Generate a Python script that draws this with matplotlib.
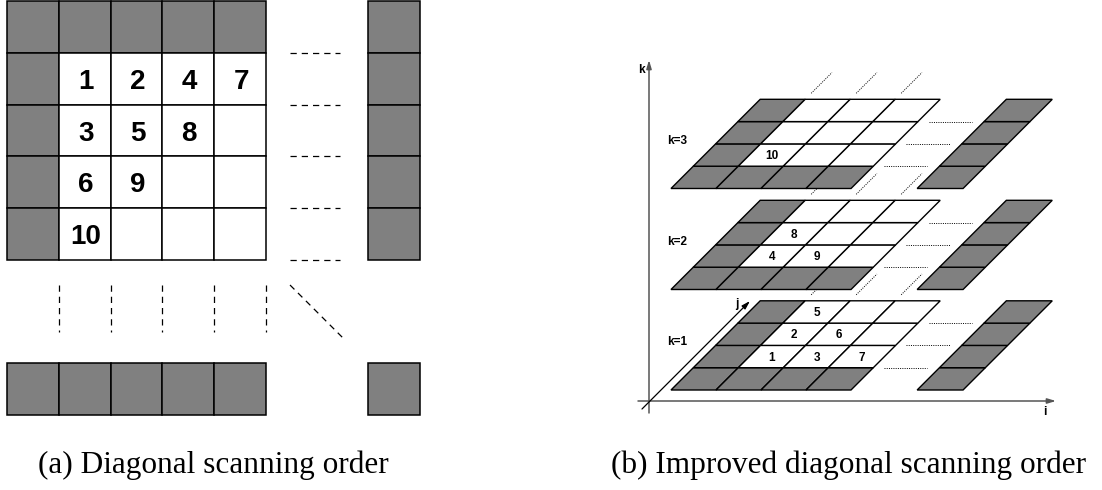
import matplotlib
matplotlib.use("Agg")
import matplotlib.pyplot as plt
from matplotlib.patches import Polygon, Rectangle

# (a) scan order in the 4x4 interior, row by row (None = empty cell)
left_order = [
    [1, 2, 4, 7],
    [3, 5, 8, None],
    [6, 9, None, None],
    [10, None, None, None],
]

# (b) labels per layer: (column, row-from-front, text)
layer_names = ["k=1", "k=2", "k=3"]
layer1_labels = [(1, 1, "1"), (2, 1, "3"), (3, 1, "7"), (1, 2, "2"), (2, 2, "6"), (1, 3, "5")]
layer2_labels = [(1, 1, "4"), (2, 1, "9"), (1, 2, "8")]
layer3_labels = [(1, 1, "10")]
layer_labels = [layer1_labels, layer2_labels, layer3_labels]

captions = ["(a) Diagonal scanning order", "(b) Improved diagonal scanning order"]

GRAY = "#808080"
SANS = "Liberation Sans"
SERIF = "Liberation Serif"

fig = plt.figure(figsize=(11.02, 4.9), dpi=100)
ax = fig.add_axes([0, 0, 1, 1])
ax.set_xlim(0, 1102)
ax.set_ylim(490, 0)
ax.axis("off")

# ---------------- (a) ----------------
x0, y0, s = 7, 1, 51.8
n = 5
for r in range(n):
    for c in range(n):
        gray = r == 0 or c == 0
        ax.add_patch(Rectangle((x0 + c * s, y0 + r * s), s, s,
                               facecolor=GRAY if gray else "white",
                               edgecolor="black", lw=1.1))
# right gray column and bottom gray row
xr = 368
for r in range(n):
    ax.add_patch(Rectangle((xr, y0 + r * s), s, s, facecolor=GRAY, edgecolor="black", lw=1.1))
yb = 363
for c in range(n):
    ax.add_patch(Rectangle((x0 + c * s, yb), s, s, facecolor=GRAY, edgecolor="black", lw=1.1))
ax.add_patch(Rectangle((xr, yb), s, s, facecolor=GRAY, edgecolor="black", lw=1.1))

for r, row in enumerate(left_order):
    for c, val in enumerate(row):
        if val is None:
            continue
        ax.text(x0 + (c + 1.5) * s + 1, y0 + (r + 1.5) * s + 3, str(val), ha="center", va="center",
                fontsize=20, fontweight="bold", family=SANS)

dash = (0, (5, 4))
for r in range(1, n + 1):
    ax.plot([290, 340], [y0 + r * s] * 2, color="black", lw=0.9, linestyle=dash)
for c in range(1, n + 1):
    ax.plot([x0 + c * s] * 2, [285, 332], color="black", lw=0.9, linestyle=dash)
ax.plot([290, 343], [285, 338], color="black", lw=0.9, linestyle=dash)

# ---------------- (b) ----------------
bx0, cw, rh = 671, 45.0, 22.3
ybots = [390, 289.5, 188.5]


def P(layer, u, v):
    return (bx0 + cw * u + rh * v, ybots[layer] - rh * v)


dot = (0, (1.0, 1.3))
for k in range(3):
    z = 2 + k * 2
    # dotted continuations drawn under the layer above
    for v in (1, 2, 3):
        a, b = P(k, 4.24, v), P(k, 5.2, v)
        ax.plot([a[0], b[0]], [a[1], b[1]], color="black", lw=0.7, linestyle=dot, zorder=z)
    for u in (1, 2, 3):
        a, b = P(k, u, 4.27), P(k, u, 5.2)
        ax.plot([a[0], b[0]], [a[1], b[1]], color="black", lw=0.7, linestyle=dot, zorder=z)
    for u in range(4):
        for v in range(4):
            gray = u == 0 or v == 0
            pts = [P(k, u, v), P(k, u + 1, v), P(k, u + 1, v + 1), P(k, u, v + 1)]
            ax.add_patch(Polygon(pts, closed=True, facecolor=GRAY if gray else "white",
                                 edgecolor="black", lw=1.0, zorder=z + 1))
    for v in range(4):
        pts = [P(k, 5.47, v), P(k, 6.49, v), P(k, 6.49, v + 1), P(k, 5.47, v + 1)]
        ax.add_patch(Polygon(pts, closed=True, facecolor=GRAY, edgecolor="black", lw=1.0, zorder=z + 1))
    for u, v, t in layer_labels[k]:
        x, y = P(k, u + 0.5, v + 0.5)
        ax.text(x, y + 1, t, ha="center", va="center", fontsize=8.5, fontweight="bold",
                family=SANS, zorder=z + 1.5)
    ax.text(667, ybots[k] - 2 * rh - 3, layer_names[k], ha="left", va="center",
            fontsize=8.5, fontweight="bold", family=SANS, zorder=z + 1.5)

# axes
axc = "#555555"
ap = dict(arrowstyle="-|>,head_length=0.5,head_width=0.15", color=axc, lw=1.1, shrinkA=0, shrinkB=0)
ax.annotate("", xy=(649, 60), xytext=(649, 413), arrowprops=ap, zorder=1)
ax.annotate("", xy=(1056, 401), xytext=(638, 401), arrowprops=ap, zorder=1)
ap_j = dict(ap, color="black", lw=0.9)
ax.annotate("", xy=(750, 301), xytext=(642, 409), arrowprops=ap_j, zorder=1)
ax.text(641, 70, "k", ha="center", va="center", fontsize=8.5, fontweight="bold", family=SANS)
ax.text(1045, 412, "i", ha="center", va="center", fontsize=8.5, fontweight="bold", family=SANS)
ax.text(737, 304, "j", ha="center", va="center", fontsize=8.5, fontweight="bold", family=SANS)

ax.text(213, 473, captions[0], ha="center", va="baseline", fontsize=22.5, family=SERIF)
ax.text(849, 473, captions[1], ha="center", va="baseline", fontsize=22.5, family=SERIF)

fig.savefig("out.png", dpi=100)
